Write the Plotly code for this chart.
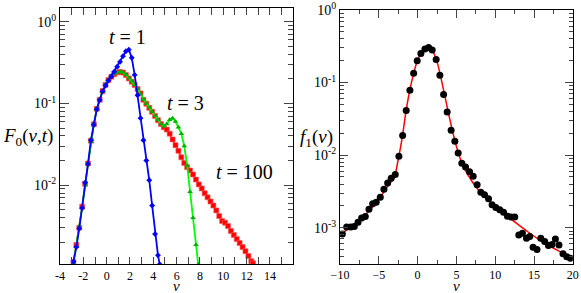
import plotly.graph_objects as go

# ---------------- Left panel data: F0(v,t) ----------------
v_t1 = [-2.85, -2.6, -2.35, -2.1, -1.85, -1.6, -1.35, -1.1, -0.85, -0.6, -0.35, -0.1,
        0.15, 0.4, 0.65, 0.9, 1.15, 1.4, 1.65, 1.9, 2.15, 2.4, 2.65, 2.9, 3.15, 3.4,
        3.65, 3.9, 4.15, 4.4, 4.55]
F_t1 = [0.00115, 0.00174, 0.00295, 0.00525, 0.0107, 0.0182, 0.0355, 0.0550, 0.0851, 0.110,
        0.141, 0.166, 0.191, 0.214, 0.245, 0.282, 0.324, 0.380, 0.437, 0.457, 0.363, 0.224,
        0.126, 0.0661, 0.0355, 0.0200, 0.0115, 0.00562, 0.00251, 0.00138, 0.00107]

v_t3 = [-2.85, -2.6, -2.35, -2.1, -1.85, -1.6, -1.35, -1.1, -0.85, -0.6, -0.35, -0.1,
        0.15, 0.4, 0.65, 0.9, 1.15, 1.4, 1.65, 1.9, 2.15, 2.4, 2.65, 2.9, 3.15, 3.4,
        3.65, 3.9, 4.15, 4.4, 4.65, 4.9, 5.15, 5.4, 5.65, 5.9, 6.15, 6.4, 6.65, 6.9,
        7.15, 7.4, 7.65, 7.85]
F_t3 = [0.00110, 0.00180, 0.00305, 0.00530, 0.0100, 0.0188, 0.0340, 0.0570, 0.0840, 0.113,
        0.140, 0.172, 0.196, 0.216, 0.230, 0.241, 0.246, 0.240, 0.225, 0.205, 0.187, 0.170,
        0.152, 0.131, 0.112, 0.100, 0.0891, 0.0794, 0.0708, 0.0631, 0.0562, 0.0525, 0.0562,
        0.0631, 0.0661, 0.0603, 0.0513, 0.0427, 0.0302, 0.0174, 0.00832, 0.00398, 0.00186,
        0.00107]

v_t100 = [-2.85, -2.6, -2.35, -2.1, -1.85, -1.6, -1.35, -1.1, -0.85, -0.6, -0.35, -0.1,
          0.15, 0.4, 0.65, 0.9, 1.15, 1.4, 1.65, 1.9, 2.15, 2.4, 2.65, 2.9, 3.15, 3.4,
          3.65, 3.9, 4.15, 4.4, 4.65, 4.9, 5.15, 5.4, 5.65, 5.9, 6.15, 6.4, 6.65, 6.9,
          7.15, 7.4, 7.65, 7.9, 8.15, 8.4, 8.65, 8.9, 9.15, 9.4, 9.65, 9.9, 10.15, 10.4,
          10.65, 10.9, 11.15, 11.4, 11.65, 11.9, 12.15, 12.4, 12.55]
F_t100 = [0.00114, 0.00185, 0.00300, 0.00545, 0.0104, 0.0184, 0.0350, 0.0555, 0.0860, 0.111,
          0.142, 0.169, 0.194, 0.213, 0.228, 0.239, 0.244, 0.239, 0.223, 0.203, 0.185, 0.169,
          0.150, 0.133, 0.111, 0.0995, 0.0885, 0.0790, 0.0705, 0.0625, 0.0562, 0.0513,
          0.0479, 0.0427, 0.0363, 0.0309, 0.0263, 0.0219, 0.0186, 0.0166, 0.0151, 0.0135,
          0.0117, 0.0102, 0.00912, 0.00794, 0.00708, 0.00631, 0.00562, 0.00490, 0.00417,
          0.00363, 0.00347, 0.00316, 0.00275, 0.00245, 0.00219, 0.00195, 0.00174, 0.00155,
          0.00135, 0.00117, 0.00110]

# ---------------- Right panel data: f1(v) ----------------
v_f1 = [-9.70, -9.14, -8.62, -8.16, -7.68, -7.21, -6.74, -6.27, -5.79, -5.33, -4.81, -4.34,
        -3.86, -3.40, -2.88, -2.41, -1.93, -1.47, -0.99, -0.51, -0.05, 0.42, 0.94, 1.42,
        1.88, 2.39, 2.87, 3.35, 3.81, 4.32, 4.80, 5.23, 5.70, 6.18, 6.69, 7.16, 7.67, 8.15,
        8.62, 9.14, 9.60, 10.08, 10.59, 11.07, 11.58, 12.05, 12.52, 13.04, 13.51, 14.03,
        14.45, 14.88, 15.39, 15.87, 16.38, 16.86, 17.32, 17.76, 18.22, 18.74, 19.22, 19.69]
f1_pts = [0.000822, 0.00102, 0.00102, 0.00104, 0.00119, 0.00136, 0.00143, 0.00180, 0.00214,
          0.00225, 0.00263, 0.00338, 0.00412, 0.00479, 0.00543, 0.00962, 0.0186, 0.0412,
          0.0785, 0.134, 0.200, 0.252, 0.289, 0.305, 0.281, 0.208, 0.126, 0.0684, 0.0394,
          0.0220, 0.0155, 0.0107, 0.00776, 0.00685, 0.00590, 0.00511, 0.00390, 0.00309,
          0.00284, 0.00250, 0.00207, 0.00190, 0.00177, 0.00163, 0.00144, 0.00140, 0.00140,
          0.000794, 0.000839, 0.000716, 0.000759, 0.000537, 0.000501, 0.000716, 0.000646,
          0.000568, 0.000589, 0.000700, 0.000576, 0.000437, 0.000398, 0.000380]

v_fit = [-10, -9, -8, -7, -6, -5, -4, -3, -2.5, -2.0, -1.5, -1.0, -0.5, 0, 0.5, 1.0, 1.4,
         1.8, 2.2, 2.6, 3.0, 3.5, 4.0, 4.5, 5.0, 5.5, 6.0, 7.0, 8.0, 9.0, 10.0, 12.0, 14.0,
         16.0, 18.0, 20.0]
f1_fit = [0.000794, 0.000955, 0.00115, 0.00141, 0.00182, 0.00245, 0.00355, 0.00501, 0.00871,
          0.0170, 0.0398, 0.0794, 0.135, 0.204, 0.260, 0.292, 0.302, 0.285, 0.240, 0.178,
          0.117, 0.0661, 0.0372, 0.0214, 0.0132, 0.00891, 0.00661, 0.00437, 0.00316, 0.00245,
          0.00195, 0.00132, 0.000912, 0.000646, 0.000490, 0.000372]

left_xticks = [-4, -3, -2, -1, 0, 1, 2, 3, 4, 5, 6, 7, 8, 9, 10, 11, 12, 13, 14, 15]
left_xtext = ["-4", "", "-2", "", "0", "", "2", "", "4", "", "6", "", "8", "", "10", "", "12", "", "14", ""]
left_yticks = [1, 0.1, 0.01]
left_ytext = ["10<sup>0</sup>", "10<sup>-1</sup>", "10<sup>-2</sup>"]
right_xticks = [-10, -5, 0, 5, 10, 15, 20]
right_yticks = [1, 0.1, 0.01, 0.001]
right_ytext = ["10<sup>0</sup>", "10<sup>-1</sup>", "10<sup>-2</sup>", "10<sup>-3</sup>"]
minor_log = [m * 10 ** e for e in (-4, -3, -2, -1, 0) for m in (2, 3, 4, 5, 6, 7, 8, 9)]

SERIF = "Liberation Serif, DejaVu Serif, serif"

fig = go.Figure()

fig.add_trace(go.Scatter(x=v_t100, y=F_t100, mode="lines+markers", xaxis="x", yaxis="y",
                         line=dict(color="#ff0000", width=1.5),
                         marker=dict(symbol="square", size=5, color="#ff0000",
                                     line=dict(color="rgba(255,90,90,0.6)", width=1)),
                         showlegend=False))
fig.add_trace(go.Scatter(x=v_t3, y=F_t3, mode="lines+markers", xaxis="x", yaxis="y",
                         line=dict(color="#00ff00", width=1.8),
                         marker=dict(symbol="triangle-up", size=5, color="#00b000"),
                         showlegend=False))
fig.add_trace(go.Scatter(x=v_t1, y=F_t1, mode="lines+markers", xaxis="x", yaxis="y",
                         line=dict(color="#0000ff", width=1.8),
                         marker=dict(symbol="diamond", size=4.5, color="#0000ff"),
                         showlegend=False))

fig.add_trace(go.Scatter(x=v_fit, y=f1_fit, mode="lines", xaxis="x2", yaxis="y2",
                         line=dict(color="#ff0000", width=1.5, shape="spline", smoothing=0.8),
                         showlegend=False))
fig.add_trace(go.Scatter(x=v_f1, y=f1_pts, mode="markers", xaxis="x2", yaxis="y2",
                         marker=dict(symbol="circle", size=7, color="#000000"),
                         showlegend=False))

axis_common = dict(showgrid=False, zeroline=False, showline=True, linecolor="black",
                   linewidth=1, mirror="allticks", ticks="inside", automargin=False)
xfont = dict(family=SERIF, size=12, color="black")
yfont = dict(family=SERIF, size=14, color="black")

fig.update_layout(
    width=581, height=293,
    margin=dict(l=0, r=0, t=0, b=0, pad=0),
    paper_bgcolor="white", plot_bgcolor="white",
    xaxis=dict(domain=[0.1033, 0.5048], anchor="y", range=[-4, 16], tickfont=xfont,
               tickvals=left_xticks, ticktext=left_xtext, ticklen=7, **axis_common),
    yaxis=dict(domain=[0.098, 0.9727], anchor="x", type="log", range=[-2.97, 0.17],
               tickvals=left_yticks, ticktext=left_ytext, ticklen=9, tickfont=yfont,
               minor=dict(tickvals=minor_log, ticklen=5, ticks="inside"), **axis_common),
    xaxis2=dict(domain=[0.5852, 0.9859], anchor="y2", range=[-10, 20], tickfont=xfont,
                tickvals=right_xticks, ticklen=8,
                minor=dict(dtick=2.5, ticklen=4, ticks="inside"), **axis_common),
    yaxis2=dict(domain=[0.099, 0.9659], anchor="x2", type="log", range=[-3.5, 0],
                tickvals=right_yticks, ticktext=right_ytext, ticklen=8, tickfont=yfont,
                minor=dict(tickvals=minor_log, ticklen=4, ticks="inside"), **axis_common),
)

annotations = [
    dict(text="<i>t</i> = 1", x=127.5, y=37, size=20, anchor="middle"),
    dict(text="<i>t</i> = 3", x=185.5, y=103, size=20, anchor="middle"),
    dict(text="<i>t</i> = 100", x=244.5, y=172, size=20, anchor="middle"),
    dict(text="<i>F</i><sub>0</sub>(<i>v</i>,<i>t</i>)", x=28, y=137, size=19, anchor="middle"),
    dict(text="<i>f</i><sub>1</sub>(<i>v</i>)", x=316, y=138, size=19, anchor="middle"),
    dict(text="<i>v</i>", x=176.5, y=296, size=15, anchor="bottom"),
    dict(text="<i>v</i>", x=456, y=296, size=15, anchor="bottom"),
]
for a in annotations:
    fig.add_annotation(text=a["text"], x=a["x"] / 581, y=1 - a["y"] / 293,
                       xref="paper", yref="paper", showarrow=False,
                       xanchor="center", yanchor=a["anchor"],
                       font=dict(family=SERIF, size=a["size"], color="black"))

fig.write_html("out.html", config={"displayModeBar": False},
               post_script="document.body.style.margin='0';document.body.style.overflow='hidden';")
